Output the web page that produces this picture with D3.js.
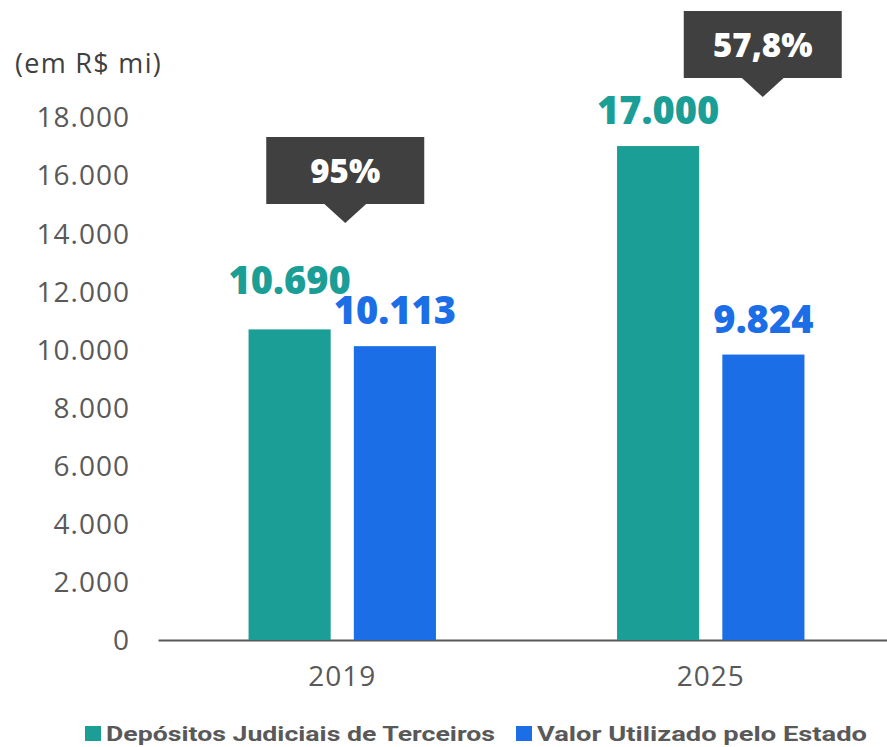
<!DOCTYPE html>
<html>
<head>
<meta charset="utf-8">
<script src="https://cdn.jsdelivr.net/npm/d3@7"></script>
<style>
  body { margin: 0; background: #fff; }
  text { font-family: "Open Sans", sans-serif; }
</style>
</head>
<body>
<div id="chart"></div>
<script>
// Data
const years = ["2019", "2025"];
const series = ["Depósitos Judiciais de Terceiros", "Valor Utilizado pelo Estado"];
const depositos = [10690, 17000];
const utilizado = [10113, 9824];
const shares = ["95%", "57,8%"];
const yTicks = [0, 2000, 4000, 6000, 8000, 10000, 12000, 14000, 16000, 18000];

const colors = ["#1b9e95", "#1b6ee5"];
const width = 887, height = 747;

const svg = d3.select("#chart")
  .append("svg")
  .attr("width", width)
  .attr("height", height);

const ptBR = d3.formatLocale({ decimal: ",", thousands: ".", grouping: [3], currency: ["R$", ""] });
const fmt = ptBR.format(",d");

// Scales
const x = d3.scaleBand()
  .domain(years)
  .range([158, 895]);

const xInner = d3.scaleBand()
  .domain(series)
  .range([0, x.bandwidth()])
  .paddingInner(0.22)
  .paddingOuter(0.86);

const y = d3.scaleLinear()
  .domain([0, 18000])
  .range([640, 117]);

// Y axis labels (no line)
const yAxis = d3.axisLeft(y)
  .tickValues(yTicks)
  .tickFormat(fmt)
  .tickSize(0)
  .tickPadding(0);

svg.append("g")
  .attr("transform", "translate(130,0)")
  .call(yAxis)
  .call(g => g.select(".domain").remove())
  .selectAll("text")
  .attr("fill", "#595959")
  .style("font-size", "28px")
  .style("letter-spacing", "1px")
  .style("font-family", "Open Sans, sans-serif")
  .attr("dy", "0.35em");

// X axis
const xAxis = d3.axisBottom(x).tickSize(0).tickPadding(26);
svg.append("g")
  .attr("transform", "translate(0,640)")
  .call(xAxis)
  .call(g => g.select(".domain").attr("stroke", "#595959").attr("stroke-width", 2))
  .selectAll("text")
  .attr("fill", "#595959")
  .style("font-size", "28px")
  .style("letter-spacing", "1px")
  .style("font-family", "Open Sans, sans-serif");

// unit label
svg.append("text")
  .attr("x", 15)
  .attr("y", 73)
  .attr("fill", "#404040")
  .style("font-size", "27px")
  .style("letter-spacing", "1.3px")
  .text("(em R$ mi)");

// Bars
const rows = years.map((yr, i) => ({ year: yr, values: [depositos[i], utilizado[i]] }));
const labelLift = [[13, 0], [0, 0]]; // extra lift where labels would collide

const groups = svg.selectAll(".grp")
  .data(rows)
  .enter()
  .append("g")
  .attr("class", "grp")
  .attr("transform", d => `translate(${x(d.year)},0)`);

groups.selectAll("rect")
  .data(d => d.values.map((v, j) => ({ key: series[j], value: v, j })))
  .enter()
  .append("rect")
  .attr("x", d => xInner(d.key))
  .attr("width", xInner.bandwidth())
  .attr("y", d => y(d.value))
  .attr("height", d => y(0) - y(d.value))
  .attr("fill", d => colors[d.j]);

groups.selectAll(".val")
  .data((d, i) => d.values.map((v, j) => ({ key: series[j], value: v, j, lift: labelLift[i][j] })))
  .enter()
  .append("text")
  .attr("class", "val")
  .attr("x", d => xInner(d.key) + xInner.bandwidth() / 2)
  .attr("y", d => y(d.value) - 22 - d.lift)
  .attr("text-anchor", "middle")
  .attr("fill", d => colors[d.j])
  .style("font-size", "38px")
  .style("font-weight", "800")
  .text(d => fmt(d.value));

// Callouts
const callouts = [
  { year: "2019", dx: 3, top: 137 },
  { year: "2025", dx: 52, top: 11 }
];
callouts.forEach((c, i) => {
  const cx = x(c.year) + x.bandwidth() / 2 + c.dx;
  const bw = 158, bh = 67;
  const g = svg.append("g");
  g.append("rect")
    .attr("x", cx - bw / 2)
    .attr("y", c.top)
    .attr("width", bw)
    .attr("height", bh)
    .attr("fill", "#404040");
  g.append("path")
    .attr("d", `M${cx - 22},${c.top + bh - 1} L${cx + 22},${c.top + bh - 1} L${cx},${c.top + bh + 19} Z`)
    .attr("fill", "#404040");
  g.append("text")
    .attr("x", cx)
    .attr("y", c.top + 46)
    .attr("text-anchor", "middle")
    .attr("fill", "#fff")
    .style("font-size", "33px")
    .style("font-weight", "800")
    .text(shares[i]);
});

// Legend
const legendX = [85, 516];
const legendLen = [389, 330];
const legend = svg.selectAll(".leg")
  .data(series)
  .enter()
  .append("g")
  .attr("class", "leg")
  .attr("transform", (d, i) => `translate(${legendX[i]},726)`);

legend.append("rect")
  .attr("width", 16)
  .attr("height", 15)
  .attr("fill", (d, i) => colors[i]);

legend.append("text")
  .attr("x", 21)
  .attr("y", 15)
  .attr("fill", "#595959")
  .attr("textLength", (d, i) => legendLen[i])
  .attr("lengthAdjust", "spacingAndGlyphs")
  .style("font-family", "Roboto, sans-serif")
  .style("font-size", "21px")
  .style("font-weight", "700")
  .text(d => d);
</script>
</body>
</html>
